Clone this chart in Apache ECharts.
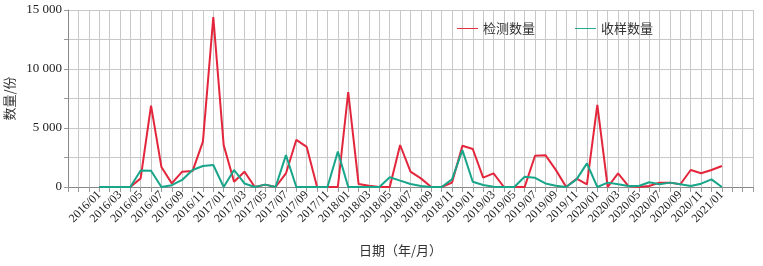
<!DOCTYPE html>
<html>
<head>
<meta charset="utf-8">
<script src="https://cdn.jsdelivr.net/npm/echarts@6/dist/echarts.min.js"></script>
<style>
html,body{margin:0;padding:0;background:#fff;}
#chart{width:763px;height:266px;}
</style>
</head>
<body>
<div id="chart"></div>
<script>
var categories = [
 '2015/10','2015/11','2015/12',
 '2016/01','2016/02','2016/03','2016/04','2016/05','2016/06','2016/07','2016/08','2016/09','2016/10','2016/11','2016/12',
 '2017/01','2017/02','2017/03','2017/04','2017/05','2017/06','2017/07','2017/08','2017/09','2017/10','2017/11','2017/12',
 '2018/01','2018/02','2018/03','2018/04','2018/05','2018/06','2018/07','2018/08','2018/09','2018/10','2018/11','2018/12',
 '2019/01','2019/02','2019/03','2019/04','2019/05','2019/06','2019/07','2019/08','2019/09','2019/10','2019/11','2019/12',
 '2020/01','2020/02','2020/03','2020/04','2020/05','2020/06','2020/07','2020/08','2020/09','2020/10','2020/11','2020/12',
 '2021/01','2021/02','2021/03','2021/04'
];
var firstMonth = '2016/01';
// 检测数量 from 2016/01 to 2021/01
var detectCounts = [
 0,0,0,0,730,6900,1700,310,1300,1350,3850,14400,
 3550,450,1300,0,200,0,1150,4000,3400,0,0,0,
 8050,250,100,0,0,3560,1300,730,0,0,370,3500,
 3220,790,1160,0,0,0,2650,2700,1450,0,700,230,
 6950,0,1160,80,0,80,370,370,230,1440,1160,1440,
 1780
];
// 收样数量 from 2016/01 to 2021/01
var receiveCounts = [
 0,0,0,0,1400,1380,0,150,600,1440,1780,1860,
 0,1440,300,0,200,0,2700,0,0,0,0,3000,
 0,0,0,0,820,540,250,85,0,0,650,3130,
 450,170,30,0,0,870,780,300,100,0,650,2000,
 0,370,230,80,80,400,230,370,230,80,280,650,
 0
];
var yTicks = [0, 5000, 10000, 15000];

function align(vals){
  var off = categories.indexOf(firstMonth);
  var out = categories.map(function(){return null;});
  for (var i=0;i<vals.length;i++) out[off+i]=vals[i];
  return out;
}
var labelFirst = categories.indexOf(firstMonth);
var labelLast = categories.indexOf('2021/01');

var chart = echarts.init(document.getElementById('chart'), null, {renderer:'canvas'});
chart.setOption({
  animation:false,
  backgroundColor:'#fff',
  grid:{left:68, right:10, top:10, bottom:79, containLabel:false, outerBoundsMode:'none'},
  legend:{
    left:452, top:17, itemWidth:21, itemHeight:12, itemGap:40,
    textStyle:{fontFamily:'Noto Sans CJK SC', fontSize:13, color:'#333'},
    data:[{name:'检测数量', icon:'path://M0,5 L22,5 L22,6 L0,6 Z'},{name:'收样数量', icon:'path://M0,5 L22,5 L22,6 L0,6 Z'}]
  },
  xAxis:{
    type:'category', boundaryGap:false, data:categories,
    name:'日期（年/月）', nameLocation:'middle', nameGap:57,
    nameTextStyle:{fontFamily:'Noto Sans CJK SC', fontSize:13, color:'#333', padding:[0,20,0,0]},
    axisLine:{lineStyle:{color:'#888'}},
    axisTick:{interval:0, length:5, lineStyle:{color:'#999'}},
    splitLine:{show:true, interval:0, lineStyle:{color:'#c8c8c8', width:1}},
    axisLabel:{
      rotate:45, fontFamily:'Liberation Serif', fontSize:12, color:'#222', margin:6,
      interval:function(idx){return idx>=labelFirst && idx<=labelLast && (idx-labelFirst)%2===0;}
    }
  },
  yAxis:{
    type:'value', min:0, max:15000, interval:2500,
    name:'数量/份', nameLocation:'middle', nameGap:50, nameRotate:90,
    nameTextStyle:{fontFamily:'Noto Sans CJK SC', fontSize:13, color:'#333'},
    axisLine:{show:true, lineStyle:{color:'#888'}},
    axisTick:{show:true, length:4, lineStyle:{color:'#999'}},
    splitLine:{show:true, lineStyle:{color:'#c8c8c8', width:1}},
    axisLabel:{
      fontFamily:'Liberation Serif', fontSize:13, color:'#222', margin:6,
      formatter:function(v){ if (yTicks.indexOf(v)<0) return ''; return v>=1000 ? Math.floor(v/1000)+' '+String(v%1000).padStart(3,'0') : String(v); }
    }
  },
  series:[
    {name:'检测数量', type:'line', data:align(detectCounts), showSymbol:false, symbol:'none',
     lineStyle:{color:'#e3263c', width:2}, itemStyle:{color:'#e3263c'}},
    {name:'收样数量', type:'line', data:align(receiveCounts), showSymbol:false, symbol:'none',
     lineStyle:{color:'#18a58a', width:2}, itemStyle:{color:'#18a58a'}}
  ]
});
</script>
</body>
</html>
